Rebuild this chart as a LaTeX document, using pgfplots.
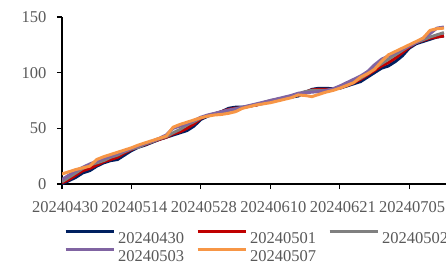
\documentclass[border=0pt]{standalone}
\usepackage{fontspec}
\setmainfont{Liberation Serif}
\usepackage{pgfplots}
\usepackage{pgfplotstable}
\pgfplotsset{compat=1.18}
\definecolor{cnavy}{RGB}{0,32,96}
\definecolor{cred}{RGB}{192,0,0}
\definecolor{cgrey}{RGB}{128,128,128}
\definecolor{cpurple}{RGB}{128,100,162}
\definecolor{corange}{RGB}{247,150,70}
\definecolor{txt}{RGB}{89,89,89}
\pgfplotstableread{
x N R G P O
0 0 1 2 4 9
1 3 4 6 8 11
2 6 8 10 12 13
3 10 12 14 15 14.5
4 12 14 17 18 16
5 16 17 19 20.5 22
6 19 20 21 23 24.5
7 21 22 24 25 26.5
8 22 24 26 27.5 28.5
9 26 28 29 29.5 30.5
10 30 31 31.5 32 32.5
11 33 33.5 33 34 35
12 35 35.5 36 36.5 37
13 37.5 38 38 38.5 39
14 40 40 40.5 41 41
15 42 42 42.5 44 43
16 44 45 46 50 51
17 46 47 49 52 53.5
18 48 50 53 54 55.5
19 52 54 56 57 57.5
20 58 59 59.5 60 59.5
21 61 61.5 61.5 62 61
22 63 63 63 63.5 62
23 65 65 64.5 65 62.5
24 68 67 66 66.5 63.5
25 69 68 67.5 67.5 65
26 69 68.5 68.5 69 68
27 70 70 70 70.5 69.5
28 71 71 71.5 72 71
29 72.5 73 73 73.5 72
30 74 74.5 75 75 73
31 76 76 76 76.5 74.5
32 77 77 77.5 78 76
33 78 78.5 79 79.5 77.5
34 79 80 81 81.5 80
35 82 82.5 83 82 79.5
36 85 84.5 84 82.5 78.5
37 86 85 84 83 80.5
38 86 85 84 84 82.5
39 85.5 85 84.5 85.5 84
40 86 86.5 87 88 86
41 88 88.5 89.5 91 88.5
42 90 91 92 94 91
43 92 94 95 97 96
44 96 98 99 101 99
45 100 102 104 107 103
46 104 106 108 112 110
47 106 109 112 115 116
48 110 113 116 118 119
49 115 118 120 121 122
50 122 123 124 124 125
51 126 127 127 127 128
52 128 129 129.5 131 131
53 130 131 132 135 138
54 132 132 134 140 139.5
55 133 133 136 141 140
}\data
\begin{document}
\begin{tikzpicture}
\begin{axis}[name=ax, scale only axis, width=384bp, height=167bp,
  xmin=0, xmax=55.3, ymin=0, ymax=150,
  axis lines=left, axis line style={-, line width=1.1bp, black},
  xtick={0,10,20,30,40,50},
  xticklabels={20240430,20240514,20240528,20240610,20240621,20240705},
  ytick={0,50,100,150},
  tick align=outside, major tick length=5bp,
  tick style={black, line width=1.1bp},
  /pgf/number format/assume math mode=true,
  tick label style={font=\fontsize{16.5bp}{19bp}\selectfont, text=txt},
  xticklabel style={yshift=-9bp, xshift=3bp},
  yticklabel style={xshift=-7bp},
  legend columns=3,
  legend image code/.code={\draw[#1] (0bp,5.5bp) -- (48bp,5.5bp);},
  legend style={draw=none, inner sep=0pt, at={(0,0)}, anchor=north west,
    xshift=2bp, yshift=-46bp, font=\fontsize{16.5bp}{19bp}\selectfont, text=txt,
    column sep=3bp, row sep=5bp,
    nodes={inner sep=0pt, text height=12bp, text depth=0pt},
    /tikz/every even column/.append style={column sep=12bp}},
  every axis plot/.append style={line width=3bp, line join=round},
  clip=true,
]
\addplot[cnavy] table[x=x,y=N]{\data};
\addlegendentry{20240430}
\addplot[cred] table[x=x,y=R]{\data};
\addlegendentry{20240501}
\addplot[cgrey] table[x=x,y=G]{\data};
\addlegendentry{20240502}
\addplot[cpurple] table[x=x,y=P]{\data};
\addlegendentry{20240503}
\addplot[corange] table[x=x,y=O]{\data};
\addlegendentry{20240507}
\end{axis}
\pgfresetboundingbox
\path (ax.south west) ++(-62bp,-83bp) rectangle ++(446bp,267bp);
\end{tikzpicture}
\end{document}
